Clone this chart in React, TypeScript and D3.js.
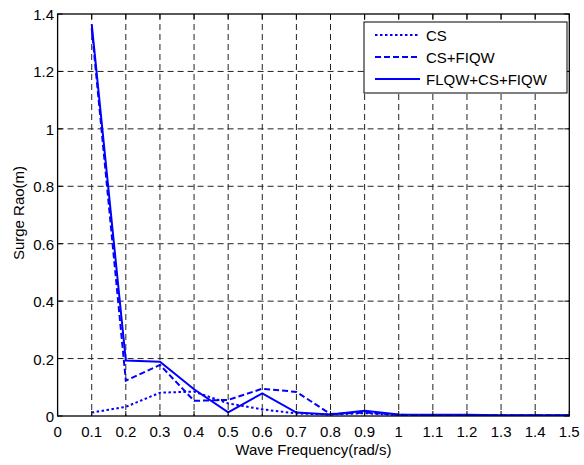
import React from "react";
import * as d3 from "d3";

const freqs = [0.1, 0.2, 0.3, 0.4, 0.5, 0.6, 0.7, 0.8, 0.9, 1.0, 1.1, 1.2, 1.3, 1.4, 1.5];
const csValues = [0.012, 0.032, 0.081, 0.085, 0.044, 0.023, 0.009, 0.005, 0.01, 0.003, 0.003, 0.002, 0.002, 0.002, 0.002];
const csFiqwValues = [1.35, 0.123, 0.178, 0.053, 0.056, 0.095, 0.084, 0.007, 0.012, 0.004, 0.003, 0.003, 0.003, 0.003, 0.003];
const fullValues = [1.365, 0.193, 0.189, 0.093, 0.013, 0.079, 0.012, 0.005, 0.018, 0.005, 0.004, 0.004, 0.003, 0.003, 0.003];
const seriesNames = ["CS", "CS+FIQW", "FLQW+CS+FIQW"];
const xTicks = [0, 0.1, 0.2, 0.3, 0.4, 0.5, 0.6, 0.7, 0.8, 0.9, 1, 1.1, 1.2, 1.3, 1.4, 1.5];
const yTicks = [0, 0.2, 0.4, 0.6, 0.8, 1, 1.2, 1.4];

export default function App() {
  const W = 584, H = 465;
  const left = 57.6, right = 569.3, top = 14, bottom = 416;
  const x = d3.scaleLinear().domain([0, 1.5]).range([left, right]);
  const y = d3.scaleLinear().domain([0, 1.4]).range([bottom, top]);
  const line = d3.line<number>().x((_, i) => x(freqs[i])).y((d) => y(d));
  const font = "Arial, 'Liberation Sans', sans-serif";
  const fs = 15;
  const series = [
    { vals: csValues, dash: "2.5,2.5" },
    { vals: csFiqwValues, dash: "6,3" },
    { vals: fullValues, dash: "none" },
  ];
  const fmt = (v: number) => String(+v.toFixed(1));
  const legX = 364, legY = 22, legW = 203, legH = 71;
  const rows = [35, 57, 79];
  return (
    <svg width={W} height={H} style={{ position: "absolute", left: 0, top: 0, background: "#fff" }}>
      <rect x={0} y={0} width={W} height={H} fill="#fff" />
      {xTicks.slice(1, -1).map((t) => (
        <line key={"gx" + t} x1={x(t)} x2={x(t)} y1={top} y2={bottom} stroke="#222" strokeWidth={1} strokeDasharray="6,4" />
      ))}
      {yTicks.slice(1, -1).map((t) => (
        <line key={"gy" + t} x1={left} x2={right} y1={y(t)} y2={y(t)} stroke="#222" strokeWidth={1} strokeDasharray="6,4" />
      ))}
      <clipPath id="clip"><rect x={left} y={top} width={right - left} height={bottom - top} /></clipPath>
      <g clipPath="url(#clip)">
        {series.map((s, i) => (
          <path key={i} d={line(s.vals) || ""} fill="none" stroke="#0000ff" strokeWidth={2} strokeDasharray={s.dash} />
        ))}
      </g>
      <rect x={left} y={top} width={right - left} height={bottom - top} fill="none" stroke="#000" strokeWidth={1.3} />
      {xTicks.map((t) => (
        <g key={"tx" + t}>
          <line x1={x(t)} x2={x(t)} y1={bottom} y2={bottom - 5} stroke="#000" />
          <line x1={x(t)} x2={x(t)} y1={top} y2={top + 5} stroke="#000" />
          <text x={x(t)} y={437} textAnchor="middle" fontFamily={font} fontSize={fs}>{fmt(t)}</text>
        </g>
      ))}
      {yTicks.map((t) => (
        <g key={"ty" + t}>
          <line x1={left} x2={left + 5} y1={y(t)} y2={y(t)} stroke="#000" />
          <line x1={right} x2={right - 5} y1={y(t)} y2={y(t)} stroke="#000" />
          <text x={left - 3.5} y={y(t) + 6} textAnchor="end" fontFamily={font} fontSize={fs}>{fmt(t)}</text>
        </g>
      ))}
      <text x={(left + right) / 2} y={455} textAnchor="middle" fontFamily={font} fontSize={fs}>Wave Frequency(rad/s)</text>
      <text transform={`translate(23.5,213) rotate(-90)`} textAnchor="middle" fontFamily={font} fontSize={fs}>Surge Rao(m)</text>
      <rect x={legX} y={legY} width={legW} height={legH} fill="#fff" stroke="#000" strokeWidth={1} />
      {series.map((s, i) => (
        <g key={"leg" + i}>
          <line x1={375} x2={420} y1={rows[i]} y2={rows[i]} stroke="#0000ff" strokeWidth={2} strokeDasharray={s.dash} />
          <text x={426} y={rows[i] + 5.5} fontFamily={font} fontSize={fs}>{seriesNames[i]}</text>
        </g>
      ))}
    </svg>
  );
}
